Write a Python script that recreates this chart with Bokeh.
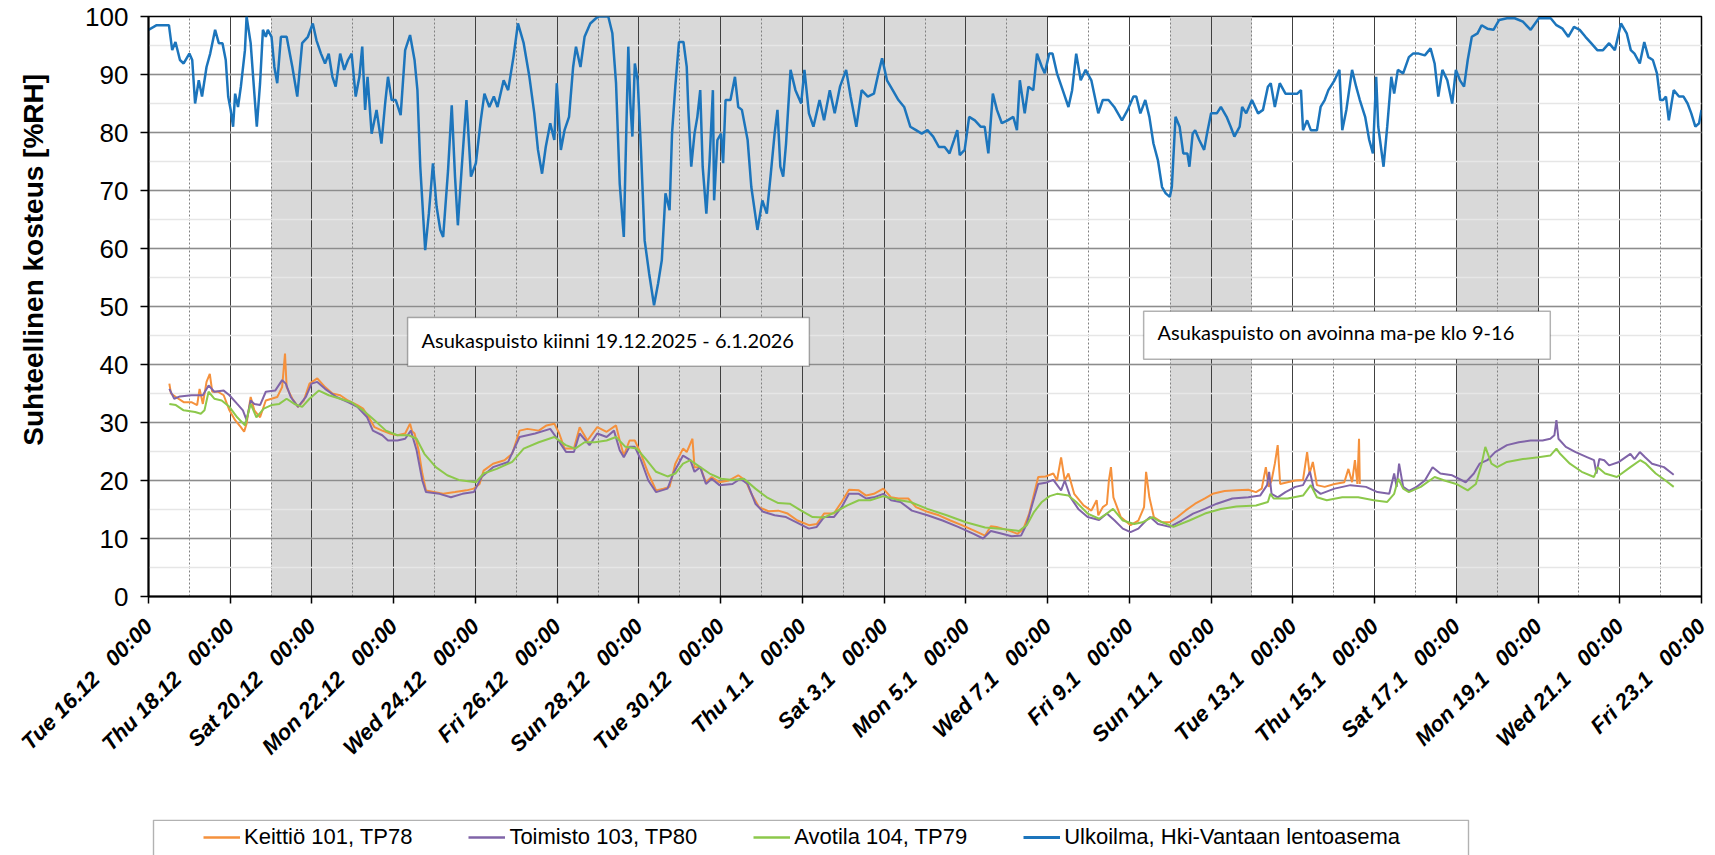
import numpy as np
import pandas as pd
from bokeh.plotting import figure
from bokeh.layouts import column
from bokeh.models import (FixedTicker, SingleIntervalTicker, BoxAnnotation, Label,
                          Legend, LegendItem, Range1d)
from bokeh.embed import file_html
from bokeh.resources import INLINE

START = pd.Timestamp("2025-12-16 00:00")  # Tue 16.12.2025 00:00, t = 0 days

# ---------------- data (t = days since START, value = %RH) ----------------
ulko_t = [0.0, 0.2, 0.5, 0.58, 0.66, 0.77, 0.86, 1.0, 1.07, 1.14, 1.23, 1.31, 1.42, 1.51, 1.63, 1.72, 1.81, 1.89,
          1.95, 2.01, 2.07, 2.12, 2.19, 2.26, 2.36, 2.40, 2.50, 2.56, 2.65, 2.73, 2.80, 2.87, 2.92, 3.01, 3.08, 3.15,
          3.24, 3.38, 3.52, 3.64, 3.76, 3.90, 4.02, 4.11, 4.22, 4.32, 4.41, 4.50, 4.58, 4.69, 4.79, 4.88, 4.97, 5.07,
          5.16, 5.23, 5.30, 5.36, 5.46, 5.58, 5.70, 5.79, 5.86, 5.95, 6.05, 6.17, 6.28, 6.40, 6.51, 6.58, 6.65, 6.77,
          6.86, 6.96, 7.05, 7.14, 7.21, 7.33, 7.42, 7.50, 7.57, 7.66, 7.78, 7.89, 8.01, 8.13, 8.22, 8.34, 8.45, 8.54,
          8.69, 8.80, 8.93, 9.04, 9.18, 9.32, 9.44, 9.53, 9.63, 9.72, 9.83, 9.93, 9.99, 10.09, 10.18, 10.29, 10.39,
          10.46, 10.57, 10.67, 10.81, 10.95, 11.02, 11.25, 11.35, 11.44, 11.53, 11.63, 11.67, 11.74, 11.79, 11.84,
          11.90, 11.97, 12.05, 12.14, 12.25, 12.37, 12.47, 12.56, 12.65, 12.75, 12.81, 12.89, 12.98, 13.09, 13.17,
          13.21, 13.28, 13.36, 13.43, 13.50, 13.56, 13.65, 13.73, 13.81, 13.84, 13.92, 14.01, 14.06, 14.12, 14.24,
          14.35, 14.43, 14.52, 14.66, 14.75, 14.90, 15.02, 15.13, 15.22, 15.32, 15.39, 15.46, 15.53, 15.60, 15.71,
          15.83, 15.97, 16.05, 16.16, 16.27, 16.42, 16.53, 16.67, 16.79, 16.92, 17.07, 17.18, 17.32, 17.45, 17.60,
          17.75, 17.86, 17.95, 18.07, 18.21, 18.35, 18.49, 18.64, 18.78, 18.92, 19.06, 19.20, 19.34, 19.48, 19.60,
          19.71, 19.79, 19.85, 19.97, 20.08, 20.22, 20.36, 20.46, 20.55, 20.66, 20.76, 20.88, 21.02, 21.16, 21.25,
          21.32, 21.44, 21.53, 21.65, 21.74, 21.86, 21.93, 22.04, 22.12, 22.23, 22.37, 22.51, 22.60, 22.70, 22.81,
          22.93, 23.07, 23.24, 23.35, 23.49, 23.63, 23.82, 23.96, 24.10, 24.17, 24.27, 24.39, 24.49, 24.59, 24.70,
          24.80, 24.89, 24.99, 25.04, 25.13, 25.23, 25.32, 25.42, 25.47, 25.55, 25.61, 25.71, 25.83, 25.90, 26.00,
          26.14, 26.24, 26.38, 26.48, 26.57, 26.70, 26.76, 26.86, 27.00, 27.15, 27.27, 27.39, 27.46, 27.56, 27.68,
          27.82, 27.96, 28.11, 28.20, 28.25, 28.35, 28.44, 28.59, 28.68, 28.78, 28.87, 29.02, 29.14, 29.21, 29.31,
          29.45, 29.55, 29.64, 29.77, 29.87, 29.96, 30.04, 30.09, 30.22, 30.31, 30.41, 30.48, 30.57, 30.70, 30.84,
          30.94, 31.08, 31.23, 31.37, 31.47, 31.56, 31.66, 31.78, 31.90, 31.99, 32.09, 32.19, 32.28, 32.38, 32.52,
          32.62, 32.76, 32.91, 33.05, 33.24, 33.43, 33.63, 33.82, 34.02, 34.31, 34.45, 34.60, 34.74, 34.88, 35.02,
          35.16, 35.30, 35.45, 35.59, 35.74, 35.88, 36.03, 36.17, 36.27, 36.36, 36.49, 36.60, 36.70, 36.81, 36.91,
          36.99, 37.06, 37.13, 37.20, 37.32, 37.45, 37.56, 37.66, 37.75, 37.85, 37.94, 38.00]
ulko_rh = [97.7, 98.5, 98.5, 94.2, 95.6, 92.5, 91.9, 93.6, 92.5, 85.0, 89.0, 86.2, 91.3, 93.6, 97.7, 95.4, 95.4, 92.5,
           86.2, 83.9, 81.0, 86.7, 84.4, 87.9, 94.2, 100.0, 95.4, 89.6, 81.0, 88.5, 97.7, 96.5, 97.7, 96.5, 91.3, 88.5,
           96.5, 96.5, 91.3, 86.2, 95.4, 96.5, 98.8, 95.9, 93.6, 91.9, 93.6, 89.6, 87.9, 93.6, 90.8, 92.5, 93.6, 86.2,
           89.6, 94.8, 83.9, 89.6, 79.8, 83.9, 78.1, 85.0, 89.6, 85.6, 85.6, 83.0, 94.2, 96.8, 92.5, 87.3, 74.1, 59.7,
           66.0, 74.7, 67.2, 63.2, 62.0, 73.5, 84.7, 72.4, 64.0, 73.5, 85.6, 72.4, 74.7, 82.1, 86.7, 84.4, 86.2, 84.4,
           89.0, 87.3, 93.0, 98.8, 95.4, 89.6, 83.3, 77.0, 72.9, 77.5, 81.6, 78.7, 88.5, 77.0, 80.4, 82.7, 91.3,
           94.8, 91.3, 96.5, 98.8, 99.7, 100.0, 100.0, 97.1, 88.5, 71.2, 62.0, 74.1, 94.8, 85.0, 79.3,
           91.9, 89.0, 77.0, 61.4, 55.7, 50.2, 54.0, 58.0, 69.5, 66.6, 79.8, 87.9, 95.6, 95.6, 91.3,
           83.9, 74.1, 79.8, 82.7, 87.3, 74.1, 66.0, 75.2, 87.3, 68.3, 78.7, 79.8, 74.7, 85.6, 85.6,
           89.6, 84.4, 83.9, 78.7, 70.6, 63.2, 68.3, 66.0, 72.4, 79.8, 83.9, 74.1, 72.4, 78.1, 90.8,
           87.3, 85.0, 90.8, 83.3, 81.0, 85.6, 82.1, 87.3, 83.3, 87.9, 90.8, 86.2, 81.0, 87.3, 86.2,
           86.7, 90.2, 92.8, 89.0, 87.3, 85.6, 84.4, 81.0, 80.4, 79.8, 80.4, 79.3, 77.5, 77.5, 76.4,
           78.7, 80.4, 76.1, 77.0, 82.7, 82.1, 81.0, 81.0, 76.4, 86.7, 83.9, 81.6, 82.1, 82.7, 80.4,
           89.0, 83.3, 87.9, 87.3, 93.6, 91.3, 90.2, 93.6, 93.6, 90.2, 87.3, 84.4, 87.3, 93.6, 89.0,
           90.8, 89.0, 83.3, 85.6, 85.6, 84.4, 82.1, 83.9, 86.2, 86.2, 83.3, 85.6, 82.7, 78.1, 75.2,
           70.6, 69.5, 68.9, 70.6, 82.7, 81.0, 76.4, 76.4, 74.1, 79.8, 80.4, 78.7, 77.0, 79.8, 83.3,
           83.3, 84.4, 82.7, 81.0, 79.3, 81.0, 84.4, 83.3, 85.6, 83.3, 83.9, 87.9, 88.5, 84.4, 88.5,
           86.7, 86.7, 86.7, 87.3, 80.4, 82.1, 80.4, 80.4, 84.4, 85.6, 87.3, 89.0, 90.8, 80.4, 83.9,
           90.8, 87.9, 85.6, 82.7, 78.7, 76.4, 89.6, 81.0, 74.1, 81.0, 89.6, 86.7, 90.8, 90.2, 93.0,
           93.6, 93.6, 93.3, 94.5, 91.9, 86.2, 90.8, 89.0, 85.0, 90.8, 89.0, 87.9, 92.5, 96.5, 97.1,
           98.5, 97.9, 97.7, 99.4, 99.7, 99.7, 99.1, 97.7, 99.7, 99.7, 98.5, 97.9, 96.5, 98.2, 97.7,
           96.5, 95.4, 94.2, 94.2, 95.4, 94.2, 98.8, 97.1, 94.2, 93.6, 91.9, 95.6, 93.0, 92.5, 90.2,
           85.6, 85.6, 86.2, 82.1, 87.3, 86.2, 86.2, 85.0, 83.3, 81.0, 81.6, 83.9]

keittio_t = [0.51, 0.55, 0.67, 0.86, 1.05, 1.19, 1.25, 1.33, 1.42, 1.50, 1.56, 1.70, 1.84, 1.98, 2.12, 2.26, 2.34,
             2.40, 2.50, 2.59, 2.73, 2.87, 3.01, 3.15, 3.27, 3.34, 3.38, 3.52, 3.66, 3.80, 3.94, 4.13, 4.32, 4.50,
             4.69, 4.88, 5.11, 5.25, 5.39, 5.53, 5.72, 5.91, 6.09, 6.28, 6.40, 6.45, 6.51, 6.61, 6.70, 6.79, 6.98,
             7.21, 7.50, 7.78, 7.96, 8.10, 8.20, 8.43, 8.71, 8.90, 9.08, 9.27, 9.55, 9.74, 9.93, 10.05, 10.18,
             10.41, 10.55, 10.74, 10.98, 11.21, 11.44, 11.53, 11.63, 11.77, 11.90, 12.05, 12.23, 12.42, 12.60,
             12.75, 12.89, 13.08, 13.17, 13.31, 13.36, 13.50, 13.64, 13.78, 13.97, 14.20, 14.43, 14.61, 14.75,
             14.94, 15.17, 15.41, 15.64, 15.88, 16.16, 16.35, 16.53, 16.77, 16.96, 17.14, 17.38, 17.56, 17.75,
             17.98, 18.17, 18.35, 18.59, 18.78, 19.06, 19.34, 19.62, 19.90, 20.19, 20.47, 20.61, 20.75, 21.04,
             21.27, 21.41, 21.55, 21.67, 21.77, 21.95, 22.14, 22.23, 22.33, 22.42, 22.51, 22.65, 22.88, 23.07,
             23.20, 23.24, 23.35, 23.45, 23.50, 23.55, 23.61, 23.79, 24.03, 24.22, 24.36, 24.41, 24.49, 24.60,
             24.80, 24.99, 25.18, 25.37, 25.61, 25.85, 26.04, 26.33, 26.62, 26.91, 27.10, 27.24, 27.34, 27.41,
             27.48, 27.56, 27.63, 27.69, 27.87, 28.06, 28.25, 28.35, 28.41, 28.49, 28.59, 28.78, 29.02, 29.26,
             29.36, 29.45, 29.52, 29.58, 29.62, 29.64]
keittio_rh = [36.7, 35.0, 34.4, 33.5, 33.5, 33.0, 35.8, 33.2, 37.0, 38.4, 35.3, 35.3, 34.7, 32.1, 30.4, 29.2, 28.4,
              29.8, 34.4, 32.1, 30.9, 33.8, 34.1, 34.4, 36.1, 41.9, 36.1, 34.1, 32.7, 33.8, 36.7, 37.6, 36.1, 35.0,
              34.7, 33.8, 33.0, 32.4, 30.9, 29.2, 28.6, 28.1, 27.8, 28.1, 29.8, 28.5, 28.1, 25.2, 21.2, 18.3, 18.0,
              17.7, 18.0, 18.3, 18.6, 19.4, 21.7, 22.9, 23.5, 24.6, 28.6, 28.9, 28.6, 29.5, 29.8, 28.1, 25.5,
              25.5, 29.2, 26.9, 29.2, 28.4, 29.5, 26.9, 24.3, 26.9, 26.9, 24.6, 21.2, 18.3, 18.6,
              18.9, 22.9, 25.5, 24.9, 27.2, 22.3, 22.3, 19.7, 20.6, 19.7, 20.0, 20.9, 20.0, 17.7,
              15.4, 14.7, 14.8, 14.3, 13.1, 12.3, 12.5, 14.3, 14.3, 16.3, 18.4, 18.3, 17.4, 17.7,
              18.6, 17.1, 16.9, 16.9, 15.4, 14.6, 14.0, 13.1, 12.3, 11.4, 10.5, 12.1, 12.0, 11.4,
              10.8, 11.7, 14.3, 17.7, 20.6, 20.7, 21.2, 20.0, 24.0, 20.0, 21.2, 17.7, 15.7, 14.8,
              16.6, 14.0, 15.4, 15.9, 20.0, 22.3, 17.1, 13.7, 12.3, 13.1, 15.4, 21.5, 17.1, 13.7,
              12.8, 12.8, 13.7, 14.8, 16.0, 16.9, 17.7, 18.2, 18.3, 18.4, 18.0, 18.6, 22.3, 18.9,
              20.0, 22.9, 26.1, 19.4, 19.7, 20.0, 20.1, 24.9, 21.2, 23.2, 19.2, 18.9, 19.4, 19.7,
              22.0, 19.7, 23.5, 19.4, 27.2, 19.4]

toimisto_t = [0.51, 0.63, 0.77, 1.05, 1.33, 1.47, 1.61, 1.84, 1.98, 2.17, 2.31, 2.40, 2.50, 2.59, 2.73, 2.87, 3.10,
              3.27, 3.36, 3.48, 3.66, 3.85, 3.99, 4.13, 4.32, 4.60, 4.88, 5.11, 5.35, 5.49, 5.72, 5.86, 6.09, 6.28,
              6.42, 6.56, 6.70, 6.79, 7.12, 7.40, 7.68, 7.96, 8.15, 8.43, 8.80, 9.08, 9.46, 9.83, 10.00, 10.22,
              10.41, 10.55, 10.79, 10.98, 11.21, 11.39, 11.53, 11.63, 11.77, 11.90, 12.05, 12.23, 12.42, 12.70,
              12.84, 13.08, 13.26, 13.36, 13.50, 13.64, 13.78, 13.97, 14.29, 14.48, 14.66, 14.85, 15.04, 15.32,
              15.60, 15.88, 16.16, 16.35, 16.53, 16.77, 16.96, 17.14, 17.38, 17.56, 17.75, 17.98, 18.17, 18.40,
              18.68, 19.06, 19.43, 19.81, 20.19, 20.42, 20.61, 20.84, 21.12, 21.35, 21.49, 21.63, 21.77, 21.95,
              22.14, 22.33, 22.42, 22.56, 22.75, 22.98, 23.26, 23.45, 23.64, 23.84, 24.03, 24.22, 24.41, 24.51,
              24.70, 24.99, 25.28, 25.56, 25.85, 26.14, 26.52, 26.91, 27.20, 27.37, 27.42, 27.48, 27.63, 27.82,
              28.06, 28.25, 28.42, 28.51, 28.68, 29.02, 29.41, 29.79, 30.07, 30.36, 30.48, 30.54, 30.60, 30.70,
              30.84, 31.03, 31.23, 31.42, 31.61, 31.90, 32.23, 32.43, 32.57, 32.76, 32.95, 33.24, 33.53, 33.82,
              34.11, 34.30, 34.40, 34.45, 34.50, 34.68, 34.92, 35.21, 35.37, 35.43, 35.50, 35.62, 35.74, 35.98,
              36.26, 36.36, 36.49, 36.62, 36.79, 37.08, 37.32]
toimisto_rh = [35.8, 34.1, 34.5, 34.7, 34.7, 36.4, 35.3, 35.5, 34.7, 33.2, 32.1, 30.4, 33.8, 33.2, 33.0, 35.3, 35.5,
               37.3, 36.7, 34.4, 32.7, 34.4, 36.7, 37.0, 35.8, 34.4, 33.5, 32.7, 30.9, 28.6, 27.8, 26.9, 26.9, 27.2,
               28.6, 25.2, 20.0, 18.0, 17.7, 17.1, 17.7, 18.0, 20.6, 22.3, 23.2, 27.5, 28.1, 28.9, 27.2, 24.9,
               24.9, 28.1, 26.1, 28.1, 27.5, 28.6, 25.2, 24.0, 25.8, 25.8, 23.5, 20.0, 18.0, 18.6,
               21.2, 24.3, 23.5, 21.5, 22.3, 19.4, 20.3, 19.2, 19.4, 20.3, 19.4, 16.0, 14.6, 14.0,
               13.7, 12.7, 11.7, 12.0, 13.7, 13.7, 15.4, 17.7, 17.7, 16.9, 17.1, 17.7, 16.6, 16.3,
               14.8, 14.0, 13.1, 12.0, 10.8, 10.0, 11.3, 10.9, 10.4, 10.5, 12.5, 16.0, 19.4, 19.6,
               20.1, 18.3, 20.0, 17.1, 15.1, 13.7, 13.2, 14.3, 13.1, 11.7, 11.1, 11.7, 13.1, 13.7,
               12.5, 12.0, 13.1, 14.3, 15.1, 16.0, 16.9, 17.1, 17.4, 19.2, 21.5, 17.7, 17.1, 18.0,
               18.9, 19.2, 21.5, 18.6, 17.7, 18.6, 19.2, 18.9, 18.0, 17.7, 21.2, 18.9, 22.9, 18.9,
               18.2, 18.9, 20.0, 22.3, 21.2, 20.9, 19.7, 21.2, 22.9, 23.5, 24.9, 26.1, 26.6, 26.9,
               26.9, 27.2, 27.8, 30.4, 27.2, 25.8, 24.9, 24.0, 23.5, 21.2, 23.7, 23.5, 22.6, 23.2,
               24.6, 23.7, 24.9, 24.0, 22.9, 22.3, 21.0]

avotila_t = [0.51, 0.67, 0.86, 1.14, 1.28, 1.37, 1.47, 1.61, 1.79, 1.98, 2.17, 2.36, 2.50, 2.64, 2.82, 3.01, 3.20,
             3.38, 3.57, 3.76, 3.94, 4.17, 4.41, 4.69, 4.97, 5.25, 5.53, 5.81, 6.09, 6.37, 6.56, 6.75, 7.03, 7.31,
             7.59, 8.01, 8.20, 8.52, 8.90, 9.18, 9.55, 9.93, 10.21, 10.44, 10.67, 10.92, 11.21, 11.44, 11.67,
             11.95, 12.19, 12.42, 12.70, 12.89, 13.08, 13.26, 13.50, 13.73, 14.01, 14.29, 14.57, 14.85, 15.13,
             15.41, 15.69, 15.97, 16.25, 16.53, 16.81, 17.10, 17.38, 17.66, 17.98, 18.31, 18.64, 19.06, 19.53,
             20.00, 20.47, 20.84, 21.30, 21.49, 21.67, 21.86, 22.05, 22.23, 22.51, 22.70, 22.98, 23.26, 23.45,
             23.60, 23.84, 24.12, 24.32, 24.56, 24.70, 25.08, 25.47, 25.85, 26.24, 26.62, 27.10, 27.39, 27.45,
             27.53, 27.87, 28.25, 28.44, 28.59, 28.83, 29.21, 29.60, 29.98, 30.31, 30.48, 30.58, 30.70, 30.84,
             31.13, 31.47, 31.71, 32.00, 32.28, 32.48, 32.62, 32.71, 32.86, 33.00, 33.24, 33.63, 34.01, 34.30,
             34.45, 34.54, 34.78, 35.07, 35.37, 35.46, 35.64, 35.93, 36.26, 36.50, 36.64, 36.88, 37.12, 37.32]
avotila_rh = [33.2, 33.0, 32.1, 31.8, 31.5, 32.1, 35.3, 34.1, 33.8, 32.7, 30.9, 29.5, 33.2, 30.9, 32.4, 33.0, 33.2,
              34.1, 33.2, 32.7, 34.1, 35.5, 34.7, 34.1, 33.5, 32.1, 30.4, 28.6, 27.8, 27.8, 27.2, 24.6, 22.3, 20.9,
              20.1, 19.7, 21.2, 22.0, 23.2, 25.5, 26.6, 27.5, 26.1, 25.5, 26.6, 26.6, 26.9, 27.5, 25.8,
              25.5, 23.5, 21.5, 20.7, 21.2, 22.9, 23.5, 22.3, 21.2, 20.3, 20.1, 20.3, 18.6, 17.1,
              16.1, 16.0, 14.8, 13.7, 13.6, 14.6, 15.7, 16.6, 16.6, 17.3, 16.7, 16.3, 15.1, 14.0,
              12.8, 11.9, 11.7, 11.3, 12.3, 14.6, 16.3, 17.3, 17.7, 17.4, 16.3, 14.3, 13.4, 14.3,
              15.1, 13.1, 12.5, 12.8, 13.7, 13.1, 12.0, 13.1, 14.3, 15.1, 15.5, 15.7, 16.3, 17.7,
              16.9, 16.9, 17.4, 19.2, 17.1, 16.6, 17.1, 17.1, 16.6, 16.3, 17.7, 20.3, 18.6, 18.0,
              18.9, 20.6, 20.0, 19.4, 18.3, 19.4, 22.9, 25.8, 22.9, 22.3, 23.2, 23.7, 24.0, 24.3,
              25.5, 24.6, 22.9, 21.5, 20.6, 22.3, 21.2, 20.6, 22.3, 23.5, 22.9, 21.2, 20.0, 18.9]

# shaded periods (days since START): closure 19.12-7.1 and two weekends
shade_start = [3, 25, 32]
shade_end = [22, 27, 34]

tick_days = list(range(0, 39, 2))
tick_dates = ["Tue 16.12", "Thu 18.12", "Sat 20.12", "Mon 22.12", "Wed 24.12", "Fri 26.12", "Sun 28.12",
              "Tue 30.12", "Thu 1.1", "Sat 3.1", "Mon 5.1", "Wed 7.1", "Fri 9.1", "Sun 11.1", "Tue 13.1",
              "Thu 15.1", "Sat 17.1", "Mon 19.1", "Wed 21.1", "Fri 23.1"]
tick_time = "00:00"

series_names = ["Keittiö 101, TP78", "Toimisto 103, TP80", "Avotila 104, TP79", "Ulkoilma, Hki-Vantaan lentoasema"]
series_colors = ["#f5913c", "#8064a8", "#8cc84b", "#1c75bc"]
series_widths = [2.0, 2.0, 2.0, 2.5]
y_title = "Suhteellinen kosteus [%RH]"
note_closed = "Asukaspuisto kiinni 19.12.2025 - 6.1.2026"
note_open = "Asukaspuisto on avoinna ma-pe klo 9-16"

# ---------------- helpers ----------------
START_MS = int(START.value // 10**6)
DAY_MS = 86400000
NB = "\u00a0"


def to_dt(days):
    return START + pd.to_timedelta(np.asarray(days, dtype=float), unit="D")


def ms(d):
    return START_MS + d * DAY_MS


FONT = "Liberation Sans"
W = 1715
BORDER_L, BORDER_R = 148, 14

# ---------------- main chart ----------------
p = figure(width=W, height=819, x_axis_type="datetime", output_backend="svg", toolbar_location=None,
           x_range=Range1d(ms(0), ms(38)), y_range=Range1d(0, 100),
           min_border_left=BORDER_L, min_border_right=BORDER_R, min_border_top=16, min_border_bottom=223)
p.background_fill_color = "white"
p.border_fill_color = "white"
p.outline_line_color = "black"
p.outline_line_width = 1.5

for s, e in zip(shade_start, shade_end):
    p.add_layout(BoxAnnotation(left=ms(s), right=ms(e), bottom=0, top=100, fill_color="#d9d9d9",
                               fill_alpha=1.0, line_color=None, level="image"))

xt = FixedTicker(ticks=[ms(d) for d in tick_days], minor_ticks=[ms(d) for d in range(0, 39)])
p.xaxis.ticker = xt
p.xaxis.major_label_overrides = {ms(d): f"{lab}{NB*3}{tick_time}" for d, lab in zip(tick_days, tick_dates)}
p.xaxis.major_label_orientation = np.pi / 4
p.xaxis.major_label_text_font = FONT
p.xaxis.major_label_text_font_style = "bold italic"
p.xaxis.major_label_text_font_size = "22px"
p.xaxis.major_label_text_color = "black"
p.xaxis.major_label_standoff = 19
p.xaxis.major_tick_out = 7
p.xaxis.major_tick_in = 0
p.xaxis.minor_tick_line_color = None
p.xaxis.axis_line_width = 2
p.xaxis.axis_line_color = "black"
p.xaxis.major_tick_line_color = "black"
p.xaxis.major_tick_line_width = 1.5

p.yaxis.ticker = SingleIntervalTicker(interval=10, num_minor_ticks=2)
p.yaxis.major_label_text_font = FONT
p.yaxis.major_label_text_font_size = "26px"
p.yaxis.major_label_text_color = "black"
p.yaxis.major_label_standoff = 12
p.yaxis.major_tick_out = 8
p.yaxis.major_tick_in = 0
p.yaxis.minor_tick_line_color = None
p.yaxis.axis_line_width = 2
p.yaxis.axis_line_color = "black"
p.yaxis.major_tick_line_color = "black"
p.yaxis.major_tick_line_width = 1.5
p.yaxis.axis_label = NB * 12 + y_title
p.yaxis.axis_label_text_font = FONT
p.yaxis.axis_label_text_font_style = "bold"
p.yaxis.axis_label_text_font_size = "28px"
p.yaxis.axis_label_text_color = "black"
p.yaxis.axis_label_standoff = 33

p.xgrid.grid_line_color = "#404040"
p.xgrid.grid_line_width = 1
p.xgrid.minor_grid_line_color = "#808080"
p.xgrid.minor_grid_line_width = 1
p.xgrid.minor_grid_line_dash = "2 2"
p.ygrid.grid_line_color = "#8c8c8c"
p.ygrid.grid_line_width = 1.5
p.ygrid.minor_grid_line_color = "#e6e6e6"
p.ygrid.minor_grid_line_width = 1.5

series = [(keittio_t, keittio_rh), (toimisto_t, toimisto_rh), (avotila_t, avotila_rh), (ulko_t, ulko_rh)]
for (t, rh), c, w in zip(series, series_colors, series_widths):
    p.line(to_dt(t), rh, line_color=c, line_width=w)

p.add_layout(BoxAnnotation(left=ms(6.34), right=ms(16.17), bottom=39.7, top=48.1, fill_color="white",
                           fill_alpha=1.0, line_color="black", line_width=1.5))
p.add_layout(Label(x=ms(6.68), y=44.3, text=note_closed, text_font="Lato", text_font_size="20px",
                   text_baseline="middle", text_align="left", text_color="black"))
p.add_layout(BoxAnnotation(left=ms(24.35), right=ms(34.3), bottom=40.9, top=49.2, fill_color="white",
                           fill_alpha=1.0, line_color="black", line_width=1.5))
p.add_layout(Label(x=ms(24.69), y=45.6, text=note_open, text_font="Lato", text_font_size="20px",
                   text_baseline="middle", text_align="left", text_color="black"))

# ---------------- legend strip below the chart (screen-pixel ranges) ----------------
lg = figure(width=W, height=36, output_backend="svg", toolbar_location=None,
            x_range=Range1d(BORDER_L, W - BORDER_R), y_range=Range1d(0, 36),
            x_axis_location=None, y_axis_location=None,
            min_border_left=BORDER_L, min_border_right=BORDER_R, min_border_top=0, min_border_bottom=0)
lg.xgrid.visible = False
lg.ygrid.visible = False
lg.outline_line_color = None
lg.background_fill_color = "white"
lg.border_fill_color = "white"
# legend frame: open at the bottom edge of the page, as in the original
lg.add_layout(BoxAnnotation(left=153, right=1468, bottom=-3, top=35.3, fill_alpha=0.0,
                            line_color="black", line_width=1.4))
items = []
for n, c, w in zip(series_names, series_colors, series_widths):
    r = lg.line([np.nan, np.nan], [np.nan, np.nan], line_color=c, line_width=w + 0.4)
    items.append(LegendItem(label=n, renderers=[r]))
legend = Legend(items=items, orientation="horizontal", location=(50, 0), margin=0, label_text_font=FONT,
                label_text_font_size="22px", label_text_color="black", glyph_width=37, glyph_height=20,
                label_standoff=4, spacing=56, padding=5, border_line_alpha=0, background_fill_alpha=0)
lg.add_layout(legend)

open("out.html", "w").write(file_html(column(p, lg, spacing=0), INLINE))
